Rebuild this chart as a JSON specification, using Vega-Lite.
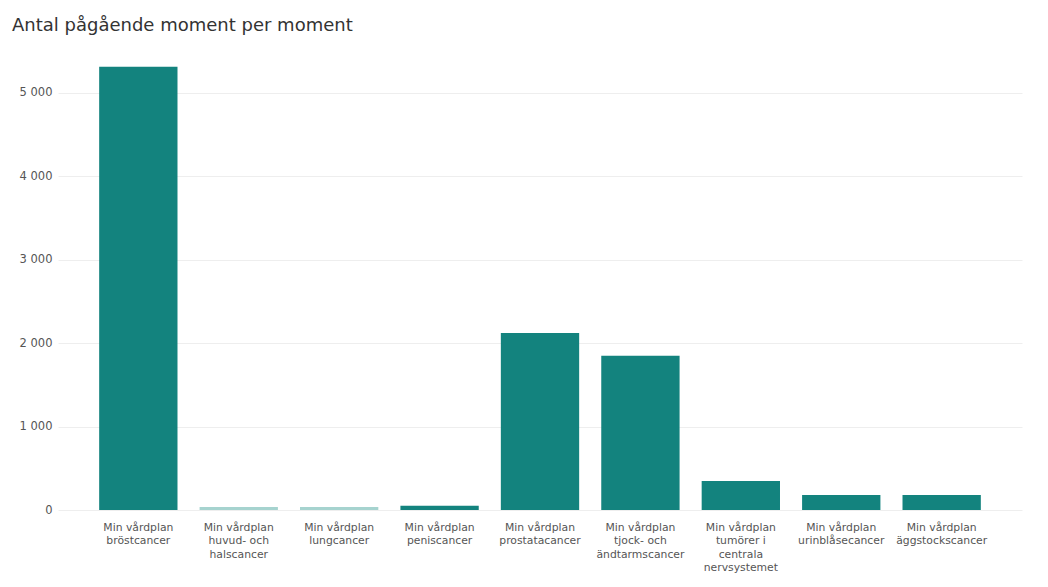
{
  "$schema": "https://vega.github.io/schema/vega-lite/v6.json",
  "width": 964,
  "height": 459,
  "autosize": {"type": "none"},
  "padding": {"left": 58, "top": 51, "right": 26, "bottom": 77},
  "background": "white",
  "title": {
    "text": "Antal pågående moment per moment",
    "anchor": "start",
    "frame": "group",
    "dx": -46,
    "offset": 16,
    "font": "DejaVu Sans",
    "fontSize": 18,
    "fontWeight": "normal",
    "color": "#333333"
  },
  "config": {
    "view": {"stroke": null},
    "font": "DejaVu Sans"
  },
  "data": {
    "values": [
      {"moment": "Min vårdplan bröstcancer", "antal": 5312},
      {"moment": "Min vårdplan huvud- och halscancer", "antal": 35},
      {"moment": "Min vårdplan lungcancer", "antal": 35},
      {"moment": "Min vårdplan peniscancer", "antal": 50},
      {"moment": "Min vårdplan prostatacancer", "antal": 2122},
      {"moment": "Min vårdplan tjock- och ändtarmscancer", "antal": 1848},
      {"moment": "Min vårdplan tumörer i centrala nervsystemet", "antal": 348},
      {"moment": "Min vårdplan urinblåsecancer", "antal": 180},
      {"moment": "Min vårdplan äggstockscancer", "antal": 180}
    ]
  },
  "mark": {"type": "bar"},
  "encoding": {
    "x": {
      "field": "moment",
      "type": "nominal",
      "sort": null,
      "scale": {"paddingInner": 0.22, "paddingOuter": 0.41},
      "axis": {
        "title": null,
        "labelAngle": 0,
        "domain": false,
        "ticks": false,
        "labelPadding": 11,
        "labelFontSize": 10.8,
        "labelColor": "#555555",
        "labelLineHeight": 13.5,
        "labelBaseline": "top",
        "labelLimit": 200,
        "labelExpr": "{'Min vårdplan huvud- och halscancer': ['Min vårdplan', 'huvud- och', 'halscancer'], 'Min vårdplan tjock- och ändtarmscancer': ['Min vårdplan', 'tjock- och', 'ändtarmscancer'], 'Min vårdplan tumörer i centrala nervsystemet': ['Min vårdplan', 'tumörer i', 'centrala', 'nervsystemet']}[datum.label] || ['Min vårdplan', slice(datum.label, 13)]"
      }
    },
    "y": {
      "field": "antal",
      "type": "quantitative",
      "scale": {"domain": [0, 5500], "nice": false},
      "axis": {
        "title": null,
        "values": [0, 1000, 2000, 3000, 4000, 5000],
        "domain": false,
        "ticks": false,
        "labelPadding": 6,
        "labelFontSize": 11.5,
        "labelColor": "#555555",
        "gridColor": "#eeeeee",
        "labelExpr": "replace(format(datum.value, ','), ',', ' ')"
      }
    },
    "color": {
      "condition": {
        "test": "datum.moment === 'Min vårdplan huvud- och halscancer' || datum.moment === 'Min vårdplan lungcancer'",
        "value": "#a6d3cf"
      },
      "value": "#13837e"
    }
  }
}
